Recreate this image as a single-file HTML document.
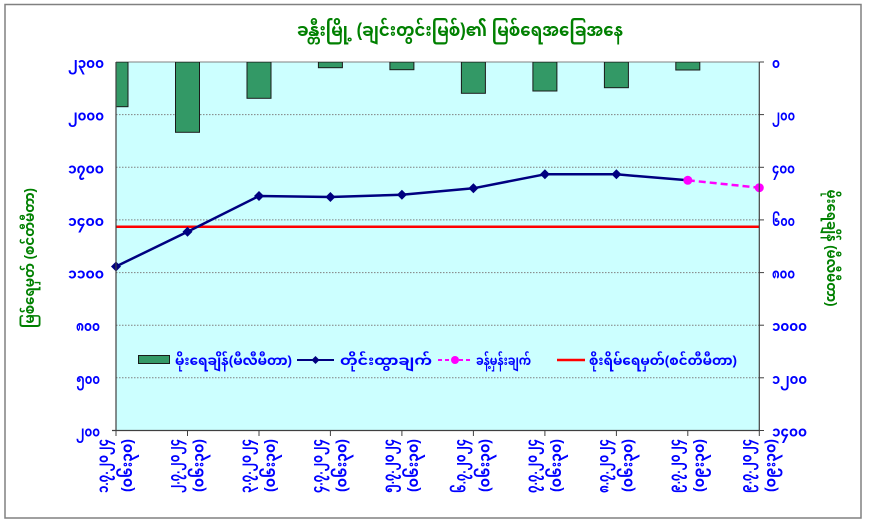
<!DOCTYPE html>
<html>
<head>
<meta charset="utf-8">
<style>
  html,body{margin:0;padding:0;background:#fff;}
  svg{display:block;}
  text{font-family:"Liberation Sans","Noto Sans Myanmar","Padauk","Myanmar Text","DejaVu Sans",sans-serif;font-weight:bold;}
  .ax{fill:#0000FF;font-size:14px;}
  .xl{fill:#0000FF;font-size:15px;font-weight:normal;}
  .lg{fill:#0000FF;font-size:13px;}
  .tt{fill:#008000;}
</style>
</head>
<body>
<svg width="869" height="530" viewBox="0 0 869 530" xmlns="http://www.w3.org/2000/svg">
  <rect x="0" y="0" width="869" height="530" fill="#ffffff"/>
  <!-- outer border -->
  <rect x="5" y="4.5" width="856" height="513.5" fill="none" stroke="#808080" stroke-width="1.5"/>

  <!-- title -->
  <text class="tt" x="460" y="36" font-size="18" text-anchor="middle" textLength="326" lengthAdjust="spacingAndGlyphs">ခန္တီးမြို့ (ချင်းတွင်းမြစ်)၏ မြစ်ရေအခြေအနေ</text>

  <!-- plot area -->
  <rect x="116" y="62" width="643.3" height="368.5" fill="#CCFFFF"/>

  <!-- gridlines -->
  <g stroke="#808080" stroke-width="1" stroke-dasharray="1.5 1.5">
    <line x1="116" y1="114.6" x2="759.3" y2="114.6"/>
    <line x1="116" y1="167.3" x2="759.3" y2="167.3"/>
    <line x1="116" y1="219.9" x2="759.3" y2="219.9"/>
    <line x1="116" y1="272.6" x2="759.3" y2="272.6"/>
    <line x1="116" y1="325.2" x2="759.3" y2="325.2"/>
    <line x1="116" y1="377.8" x2="759.3" y2="377.8"/>
  </g>
  <line x1="116" y1="62" x2="759.3" y2="62" stroke="#808080" stroke-width="1"/>

  <!-- bars (rainfall, hanging from top) -->
  <defs>
    <clipPath id="pc"><rect x="116" y="62" width="643.3" height="368.5"/></clipPath>
  </defs>
  <g clip-path="url(#pc)" fill="#339966" stroke="#1a1a1a" stroke-width="1">
    <rect x="104" y="62" width="24" height="44.7"/>
    <rect x="175.5" y="62" width="24" height="70.3"/>
    <rect x="247" y="62" width="24" height="36.3"/>
    <rect x="318.4" y="62" width="24" height="5.7"/>
    <rect x="389.9" y="62" width="24" height="7.7"/>
    <rect x="461.4" y="62" width="24" height="31.3"/>
    <rect x="532.9" y="62" width="24" height="29"/>
    <rect x="604.4" y="62" width="24" height="25.7"/>
    <rect x="675.8" y="62" width="24" height="8"/>
  </g>

  <!-- danger level red line -->
  <line x1="116" y1="226.7" x2="759.3" y2="226.7" stroke="#FF0000" stroke-width="2.5"/>

  <!-- measured line -->
  <polyline fill="none" stroke="#000080" stroke-width="2.5" stroke-linejoin="round"
    points="116,266.5 187.5,231.7 259,196 330.4,197 401.9,194.7 473.4,188.3 544.9,174.3 616.4,174.3 687.8,180.3"/>
  <g fill="#000080">
    <polygon points="116,261.5 121,266.5 116,271.5 111,266.5"/>
    <polygon points="187.5,226.7 192.5,231.7 187.5,236.7 182.5,231.7"/>
    <polygon points="259,191 264,196 259,201 254,196"/>
    <polygon points="330.4,192 335.4,197 330.4,202 325.4,197"/>
    <polygon points="401.9,189.7 406.9,194.7 401.9,199.7 396.9,194.7"/>
    <polygon points="473.4,183.3 478.4,188.3 473.4,193.3 468.4,188.3"/>
    <polygon points="544.9,169.3 549.9,174.3 544.9,179.3 539.9,174.3"/>
    <polygon points="616.4,169.3 621.4,174.3 616.4,179.3 611.4,174.3"/>
  </g>

  <!-- forecast dashed magenta -->
  <line x1="687.8" y1="180.3" x2="759.3" y2="187.7" stroke="#FF00FF" stroke-width="2.5" stroke-dasharray="7 4"/>
  <circle cx="687.8" cy="180.3" r="4.5" fill="#FF00FF"/>
  <circle cx="759.3" cy="187.7" r="4.5" fill="#FF00FF"/>

  <!-- axes -->
  <line x1="116" y1="62" x2="116" y2="431" stroke="#404040" stroke-width="1.2"/>
  <line x1="759.3" y1="62" x2="759.3" y2="431" stroke="#404040" stroke-width="1.2"/>
  <line x1="112" y1="430.5" x2="760" y2="430.5" stroke="#404040" stroke-width="1.2"/>

  <!-- bottom ticks -->
  <g stroke="#404040" stroke-width="1">
    <line x1="116" y1="430.5" x2="116" y2="436"/>
    <line x1="187.5" y1="430.5" x2="187.5" y2="436"/>
    <line x1="259" y1="430.5" x2="259" y2="436"/>
    <line x1="330.4" y1="430.5" x2="330.4" y2="436"/>
    <line x1="401.9" y1="430.5" x2="401.9" y2="436"/>
    <line x1="473.4" y1="430.5" x2="473.4" y2="436"/>
    <line x1="544.9" y1="430.5" x2="544.9" y2="436"/>
    <line x1="616.4" y1="430.5" x2="616.4" y2="436"/>
    <line x1="687.8" y1="430.5" x2="687.8" y2="436"/>
    <line x1="759.3" y1="430.5" x2="759.3" y2="436"/>
  </g>
  <!-- right ticks -->
  <g stroke="#404040" stroke-width="1">
    <line x1="759.3" y1="62" x2="764" y2="62"/>
    <line x1="759.3" y1="114.6" x2="764" y2="114.6"/>
    <line x1="759.3" y1="167.3" x2="764" y2="167.3"/>
    <line x1="759.3" y1="219.9" x2="764" y2="219.9"/>
    <line x1="759.3" y1="272.6" x2="764" y2="272.6"/>
    <line x1="759.3" y1="325.2" x2="764" y2="325.2"/>
    <line x1="759.3" y1="377.8" x2="764" y2="377.8"/>
    <line x1="759.3" y1="430.5" x2="764" y2="430.5"/>
  </g>

  <!-- left axis labels -->
  <g class="ax" text-anchor="end">
    <text x="104" y="68" textLength="36" lengthAdjust="spacingAndGlyphs">၂၃၀၀</text>
    <text x="104" y="120.6" textLength="36" lengthAdjust="spacingAndGlyphs">၂၀၀၀</text>
    <text x="104" y="173.3" textLength="36" lengthAdjust="spacingAndGlyphs">၁၇၀၀</text>
    <text x="104" y="225.9" textLength="36" lengthAdjust="spacingAndGlyphs">၁၄၀၀</text>
    <text x="104" y="278.6" textLength="36" lengthAdjust="spacingAndGlyphs">၁၁၀၀</text>
    <text x="100" y="331.2" textLength="24" lengthAdjust="spacingAndGlyphs">၈၀၀</text>
    <text x="100" y="383.8" textLength="24" lengthAdjust="spacingAndGlyphs">၅၀၀</text>
    <text x="100" y="436.5" textLength="24" lengthAdjust="spacingAndGlyphs">၂၀၀</text>
  </g>

  <!-- right axis labels -->
  <g class="ax" text-anchor="start">
    <text x="772" y="68" textLength="8" lengthAdjust="spacingAndGlyphs">၀</text>
    <text x="772" y="120.6" textLength="23" lengthAdjust="spacingAndGlyphs">၂၀၀</text>
    <text x="772" y="173.3" textLength="23" lengthAdjust="spacingAndGlyphs">၄၀၀</text>
    <text x="772" y="225.9" textLength="23" lengthAdjust="spacingAndGlyphs">၆၀၀</text>
    <text x="772" y="278.6" textLength="23" lengthAdjust="spacingAndGlyphs">၈၀၀</text>
    <text x="772" y="331.2" textLength="35" lengthAdjust="spacingAndGlyphs">၁၀၀၀</text>
    <text x="772" y="383.8" textLength="35" lengthAdjust="spacingAndGlyphs">၁၂၀၀</text>
    <text x="772" y="436.5" textLength="35" lengthAdjust="spacingAndGlyphs">၁၄၀၀</text>
  </g>

  <!-- axis titles -->
  <text class="tt" font-size="14" text-anchor="middle" transform="translate(34,258) rotate(-90)" textLength="140" lengthAdjust="spacingAndGlyphs">မြစ်ရေမှတ် (စင်တီမီတာ)</text>
  <text class="tt" font-size="14" text-anchor="middle" transform="translate(827,248) rotate(90)" textLength="117" lengthAdjust="spacingAndGlyphs">မိုးရေချိန် (မီလီမီတာ)</text>

  <!-- x labels (rotated -90) -->
  <g class="xl" text-anchor="end">
    <text transform="translate(108,439) rotate(-90)" textLength="54" lengthAdjust="spacingAndGlyphs">၁.၇.၂၀၂၄</text>
    <text transform="translate(132,439) rotate(-90)" textLength="53" lengthAdjust="spacingAndGlyphs">(၀၆း၃၀)</text>
    <text transform="translate(179.5,439) rotate(-90)" textLength="54" lengthAdjust="spacingAndGlyphs">၂.၇.၂၀၂၄</text>
    <text transform="translate(203.5,439) rotate(-90)" textLength="53" lengthAdjust="spacingAndGlyphs">(၀၆း၃၀)</text>
    <text transform="translate(251,439) rotate(-90)" textLength="54" lengthAdjust="spacingAndGlyphs">၃.၇.၂၀၂၄</text>
    <text transform="translate(275,439) rotate(-90)" textLength="53" lengthAdjust="spacingAndGlyphs">(၀၆း၃၀)</text>
    <text transform="translate(322.4,439) rotate(-90)" textLength="54" lengthAdjust="spacingAndGlyphs">၄.၇.၂၀၂၄</text>
    <text transform="translate(346.4,439) rotate(-90)" textLength="53" lengthAdjust="spacingAndGlyphs">(၀၆း၃၀)</text>
    <text transform="translate(393.9,439) rotate(-90)" textLength="54" lengthAdjust="spacingAndGlyphs">၅.၇.၂၀၂၄</text>
    <text transform="translate(417.9,439) rotate(-90)" textLength="53" lengthAdjust="spacingAndGlyphs">(၀၆း၃၀)</text>
    <text transform="translate(465.4,439) rotate(-90)" textLength="54" lengthAdjust="spacingAndGlyphs">၆.၇.၂၀၂၄</text>
    <text transform="translate(489.4,439) rotate(-90)" textLength="53" lengthAdjust="spacingAndGlyphs">(၀၆း၃၀)</text>
    <text transform="translate(536.9,439) rotate(-90)" textLength="54" lengthAdjust="spacingAndGlyphs">၇.၇.၂၀၂၄</text>
    <text transform="translate(560.9,439) rotate(-90)" textLength="53" lengthAdjust="spacingAndGlyphs">(၀၆း၃၀)</text>
    <text transform="translate(608.4,439) rotate(-90)" textLength="54" lengthAdjust="spacingAndGlyphs">၈.၇.၂၀၂၄</text>
    <text transform="translate(632.4,439) rotate(-90)" textLength="53" lengthAdjust="spacingAndGlyphs">(၀၆း၃၀)</text>
    <text transform="translate(679.8,439) rotate(-90)" textLength="54" lengthAdjust="spacingAndGlyphs">၉.၇.၂၀၂၄</text>
    <text transform="translate(703.8,439) rotate(-90)" textLength="53" lengthAdjust="spacingAndGlyphs">(၀၉း၃၀)</text>
    <text transform="translate(751.3,439) rotate(-90)" textLength="54" lengthAdjust="spacingAndGlyphs">၉.၇.၂၀၂၄</text>
    <text transform="translate(775.3,439) rotate(-90)" textLength="53" lengthAdjust="spacingAndGlyphs">(၀၉း၃၀)</text>
  </g>

  <!-- legend -->
  <rect x="138.5" y="355.5" width="31" height="8" fill="#339966" stroke="#1a1a1a" stroke-width="1"/>
  <text class="lg" x="175" y="365" textLength="117" lengthAdjust="spacingAndGlyphs">မိုးရေချိန်(မီလီမီတာ)</text>

  <line x1="297" y1="360" x2="334" y2="360" stroke="#000080" stroke-width="2"/>
  <polygon points="315.5,356 319.5,360 315.5,364 311.5,360" fill="#000080"/>
  <text class="lg" x="340" y="365" textLength="92" lengthAdjust="spacingAndGlyphs">တိုင်းထွာချက်</text>

  <line x1="438" y1="360" x2="472" y2="360" stroke="#FF00FF" stroke-width="2" stroke-dasharray="4 3"/>
  <circle cx="455" cy="360" r="4" fill="#FF00FF"/>
  <text class="lg" x="476" y="365" textLength="55" lengthAdjust="spacingAndGlyphs">ခန့်မှန်းချက်</text>

  <line x1="557" y1="360" x2="585" y2="360" stroke="#FF0000" stroke-width="2.5"/>
  <text class="lg" x="589" y="365" textLength="148" lengthAdjust="spacingAndGlyphs">စိုးရိမ်ရေမှတ်(စင်တီမီတာ)</text>
</svg>
</body>
</html>
